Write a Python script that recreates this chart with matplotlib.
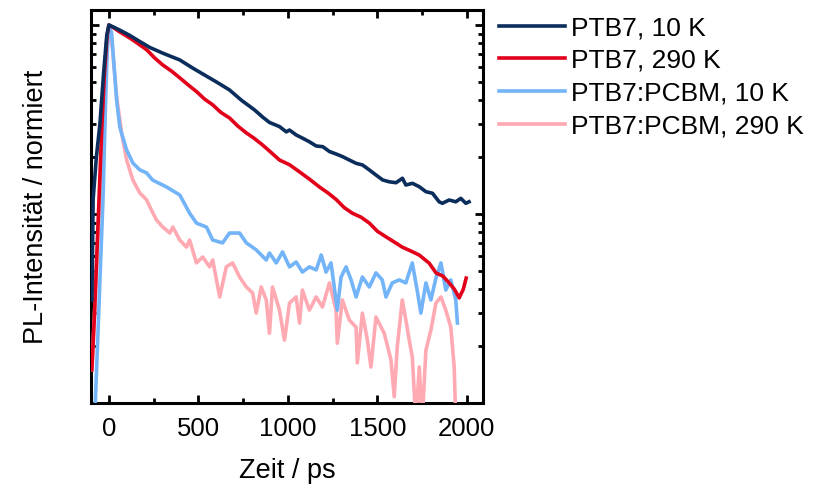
import matplotlib
matplotlib.use("Agg")
import matplotlib.pyplot as plt
import numpy as np
from matplotlib.ticker import LogLocator, MultipleLocator, NullFormatter

plt.rcParams['font.family'] = ['Liberation Sans', 'DejaVu Sans']

labels = ["PTB7, 10 K", "PTB7, 290 K", "PTB7:PCBM, 10 K", "PTB7:PCBM, 290 K"]
colors = ["#0a2d5c", "#e2001a", "#72b4f7", "#ffa9b3"]

# PTB7, 10 K
t_ptb7_10 = [-95, -88, -70, -50, -30, -12, 0, 24, 60, 117, 170, 229, 300, 396, 470, 535,
             600, 674, 740, 814, 860, 897, 953, 991, 1009, 1046, 1083, 1120, 1158, 1195,
             1232, 1269, 1306, 1343, 1381, 1417, 1455, 1492, 1529, 1566, 1604, 1640, 1659,
             1696, 1734, 1771, 1808, 1845, 1863, 1901, 1938, 1966, 1994, 2012]
i_ptb7_10 = [0.035, 0.12, 0.2, 0.3, 0.55, 0.88, 1.0, 0.976, 0.94, 0.88, 0.82, 0.76, 0.71,
             0.653, 0.59, 0.543, 0.50, 0.453, 0.40, 0.355, 0.325, 0.305, 0.290, 0.272,
             0.278, 0.262, 0.2515, 0.241, 0.229, 0.227, 0.214, 0.2077, 0.201, 0.193,
             0.1854, 0.1816, 0.171, 0.1608, 0.1514, 0.148, 0.1464, 0.1545, 0.1423, 0.1453,
             0.1394, 0.1312, 0.1287, 0.116, 0.1139, 0.1186, 0.116, 0.121, 0.1139, 0.116]

# PTB7, 290 K
t_ptb7_290 = [-95, -80, -65, -50, -40, -25, -10, 0, 24, 60, 117, 160, 212, 255, 301, 350,
              396, 445, 491, 535, 580, 625, 674, 720, 769, 810, 858, 905, 953, 1010, 1065,
              1120, 1176, 1225, 1271, 1315, 1360, 1410, 1455, 1500, 1550, 1595, 1639, 1690,
              1734, 1789, 1828, 1865, 1901, 1930, 1957, 1980, 1996]
i_ptb7_290 = [0.015, 0.03, 0.07, 0.16, 0.28, 0.55, 0.88, 1.0, 0.97, 0.92, 0.853, 0.80,
              0.738, 0.67, 0.614, 0.57, 0.525, 0.48, 0.443, 0.405, 0.378, 0.345, 0.322,
              0.292, 0.268, 0.252, 0.232, 0.212, 0.193, 0.182, 0.167, 0.153, 0.139, 0.129,
              0.119, 0.108, 0.101, 0.096, 0.0895, 0.081, 0.0755, 0.071, 0.0668, 0.0635,
              0.0606, 0.055, 0.0487, 0.047, 0.0432, 0.040, 0.036, 0.040, 0.0458]

# PTB7:PCBM, 10 K
t_blend_10 = [-80, -60, -45, -33, -20, -10, 0, 15, 43, 61, 99, 134, 173, 210, 245, 322,
              396, 451, 489, 545, 580, 635, 674, 730, 768, 823, 879, 897, 935, 970, 1009,
              1046, 1081, 1120, 1158, 1186, 1213, 1241, 1276, 1297, 1325, 1353, 1381, 1416,
              1455, 1492, 1527, 1548, 1583, 1622, 1659, 1695, 1722, 1743, 1771, 1799, 1827,
              1855, 1882, 1910, 1938, 1947]
i_blend_10 = [0.008, 0.025, 0.06, 0.12, 0.35, 0.7, 1.0, 0.908, 0.401, 0.288, 0.218,
              0.186, 0.171, 0.165, 0.151, 0.139, 0.126, 0.101, 0.0895, 0.0853, 0.0728,
              0.0703, 0.0793, 0.0793, 0.0703, 0.0646, 0.0571, 0.0622, 0.0551, 0.0630,
              0.0525, 0.0557, 0.0493, 0.0525, 0.0506, 0.0607, 0.0493, 0.0551, 0.0310,
              0.0464, 0.0525, 0.0448, 0.0364, 0.0464, 0.0411, 0.0488, 0.0448, 0.0364,
              0.0432, 0.0448, 0.0432, 0.0551, 0.0396, 0.0299, 0.0432, 0.0351, 0.0458,
              0.0551, 0.0396, 0.0448, 0.0351, 0.0265]

# PTB7:PCBM, 290 K
t_blend_290 = [-95, -70, -50, -35, -20, -8, 0, 20, 43, 71, 99, 134, 173, 210, 229, 266,
               301, 340, 357, 396, 433, 451, 489, 524, 563, 580, 619, 656, 691, 730, 768,
               803, 823, 851, 879, 897, 914, 953, 981, 1009, 1046, 1065, 1081, 1120, 1158,
               1193, 1232, 1269, 1276, 1304, 1343, 1381, 1388, 1416, 1444, 1464, 1492,
               1538, 1576, 1594, 1611, 1639, 1659, 1678, 1695, 1715, 1734, 1750, 1771,
               1799, 1827, 1855, 1882, 1910, 1929, 1938]
i_blend_290 = [0.015, 0.05, 0.12, 0.25, 0.5, 0.85, 1.0, 0.75, 0.42, 0.268, 0.193, 0.151,
               0.129, 0.119, 0.109, 0.0929, 0.0853, 0.0793, 0.0853, 0.0728, 0.0668,
               0.0728, 0.0551, 0.0592, 0.0525, 0.0571, 0.0364, 0.0525, 0.0551, 0.0464,
               0.0411, 0.0382, 0.0299, 0.0411, 0.0351, 0.0234, 0.0411, 0.0310, 0.0215,
               0.0338, 0.0364, 0.0265, 0.0396, 0.0310, 0.0364, 0.0322, 0.0432, 0.0310,
               0.0207, 0.0351, 0.0275, 0.0252, 0.0163, 0.0299, 0.0215, 0.0155, 0.0285,
               0.0234, 0.0169, 0.0108, 0.0198, 0.0351, 0.0275, 0.0215, 0.0175, 0.008,
               0.0155, 0.008, 0.0190, 0.0243, 0.0338, 0.0364, 0.0310, 0.0252, 0.0155,
               0.008]

series = [(t_ptb7_10, i_ptb7_10), (t_ptb7_290, i_ptb7_290),
          (t_blend_10, i_blend_10), (t_blend_290, i_blend_290)]

fig = plt.figure(figsize=(8.13, 4.88), dpi=100)
ax = fig.add_axes([91 / 813, 1 - 403 / 488, (483 - 91) / 813, (403 - 10) / 488])

# draw back-to-front so the PTB7 traces sit on top
for idx in [3, 2, 1, 0]:
    t, y = series[idx]
    ax.plot(t, y, color=colors[idx], lw=2.6, label=labels[idx], zorder=3 + (3 - idx),
            solid_joinstyle='round')

ax.set_yscale('log')
ax.set_xlim(-100, 2090)
ax.set_ylim(0.01, 1.2)

ax.xaxis.set_major_locator(MultipleLocator(500))
ax.xaxis.set_minor_locator(MultipleLocator(250))
ax.yaxis.set_major_locator(LogLocator(base=10))
ax.yaxis.set_minor_locator(LogLocator(base=10, subs=np.arange(2, 10)))
ax.yaxis.set_major_formatter(NullFormatter())
ax.yaxis.set_minor_formatter(NullFormatter())

ax.tick_params(which='both', direction='in', top=True, right=True, width=2, color='black')
ax.tick_params(which='major', length=5.5)
ax.tick_params(which='minor', length=3.5)
ax.tick_params(axis='x', which='major', labelsize=18.5, pad=10)
for sp in ax.spines.values():
    sp.set_linewidth(2.2)

ax.set_xlabel("Zeit / ps", fontsize=19.5, labelpad=12)
ax.set_ylabel("PL-Intensität / normiert", fontsize=19.5, labelpad=27)

handles, labs = ax.get_legend_handles_labels()
order = [labs.index(l) for l in labels]
ax.legend([handles[i] for i in order], [labs[i] for i in order],
          loc='upper left', bbox_to_anchor=(1.0, 1.025), frameon=False, fontsize=19,
          handlelength=2.5, handletextpad=0.22, labelspacing=0.33, borderaxespad=0.3,
          borderpad=0.3)

fig.savefig("out.png", dpi=100)
